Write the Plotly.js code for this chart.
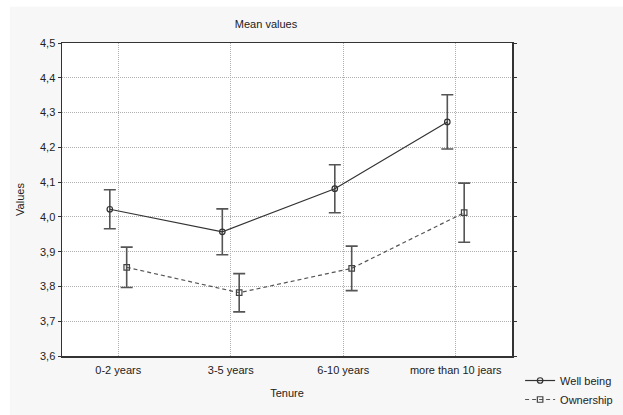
<!DOCTYPE html>
<html>
<head>
<meta charset="utf-8">
<script src="https://cdn.plot.ly/plotly-3.0.1.min.js"></script>
<style>html,body{margin:0;padding:0;background:#fff;overflow:hidden;}#chart{width:623px;height:415px;}</style>
</head>
<body>
<div id="chart"></div>
<script>
var categories = ["0-2 years", "3-5 years", "6-10 years", "more than 10 jears"];
var wellBeing = [4.022, 3.957, 4.081, 4.273];
var wellBeingErr = [0.056, 0.066, 0.069, 0.078];
var ownership = [3.855, 3.782, 3.852, 4.012];
var ownershipErr = [0.058, 0.055, 0.064, 0.085];
var yTicks = [3.6, 3.7, 3.8, 3.9, 4.0, 4.1, 4.2, 4.3, 4.4, 4.5];

var idx = categories.map(function(c, i){ return i; });
var shift = 0.075;

var traces = [
  {
    name: "Well being",
    x: idx.map(function(i){ return i - shift; }),
    y: wellBeing,
    type: "scatter",
    mode: "lines+markers",
    line: {color: "#333", width: 1.2},
    marker: {symbol: "circle-open", size: 5.5, color: "#333", line: {width: 1.2}},
    error_y: {type: "data", array: wellBeingErr, visible: true, color: "#555", thickness: 1.6, width: 6}
  },
  {
    name: "Ownership",
    x: idx.map(function(i){ return i + shift; }),
    y: ownership,
    type: "scatter",
    mode: "lines+markers",
    line: {color: "#555", width: 1.2, dash: "4px,3px"},
    marker: {symbol: "square-open", size: 5.5, color: "#444", line: {width: 1.2}},
    error_y: {type: "data", array: ownershipErr, visible: true, color: "#555", thickness: 1.6, width: 6}
  }
];

var layout = {
  width: 623,
  height: 415,
  margin: {l: 62, r: 111, t: 43, b: 59, autoexpand: false},
  paper_bgcolor: "#f7f7f7",
  plot_bgcolor: "#ffffff",
  separators: ", ",
  font: {family: "Liberation Sans, Arial, sans-serif", size: 11, color: "#222"},
  title: {text: "Mean values", x: 0.427, xref: "container", xanchor: "center", y: 0.943, yref: "container", yanchor: "middle", font: {size: 11, color: "#222"}},
  xaxis: {
    range: [-0.5, 3.5],
    tickvals: idx,
    ticktext: categories,
    showgrid: true,
    gridcolor: "#b0b0b0",
    griddash: "1px,1px",
    gridwidth: 1,
    zeroline: false,
    showline: true,
    linecolor: "#333",
    linewidth: 1.5,
    mirror: true,
    ticks: "",
    ticklabelstandoff: 3,
    title: {text: "Tenure", standoff: 14, font: {size: 11}},
    automargin: false
  },
  yaxis: {
    range: [3.6, 4.5],
    tickvals: yTicks,
    tickformat: ".1f",
    showgrid: true,
    gridcolor: "#b0b0b0",
    griddash: "1px,1px",
    gridwidth: 1,
    zeroline: false,
    showline: true,
    linecolor: "#333",
    linewidth: 1.5,
    mirror: "ticks",
    ticks: "outside",
    ticklen: 3,
    tickcolor: "#333",
    title: {text: "Values", standoff: 13, font: {size: 11}},
    automargin: false
  },
  showlegend: true,
  legend: {
    x: 1.018, xanchor: "left",
    y: -0.032, yanchor: "top",
    bgcolor: "rgba(0,0,0,0)",
    font: {size: 11, color: "#222"},
    tracegroupgap: 0,
    itemwidth: 30
  },
  shapes: [
    {type: "rect", xref: "paper", yref: "paper", x0: -0.2, x1: 1.3, y0: 1.116, y1: 1.2, fillcolor: "#ffffff", line: {width: 0}},
    {type: "rect", xref: "paper", yref: "paper", x0: -0.2, x1: -0.116, y0: -0.3, y1: 1.2, fillcolor: "#ffffff", line: {width: 0}}
  ]
};

Plotly.newPlot("chart", traces, layout, {displayModeBar: false, staticPlot: true});
</script>
</body>
</html>
